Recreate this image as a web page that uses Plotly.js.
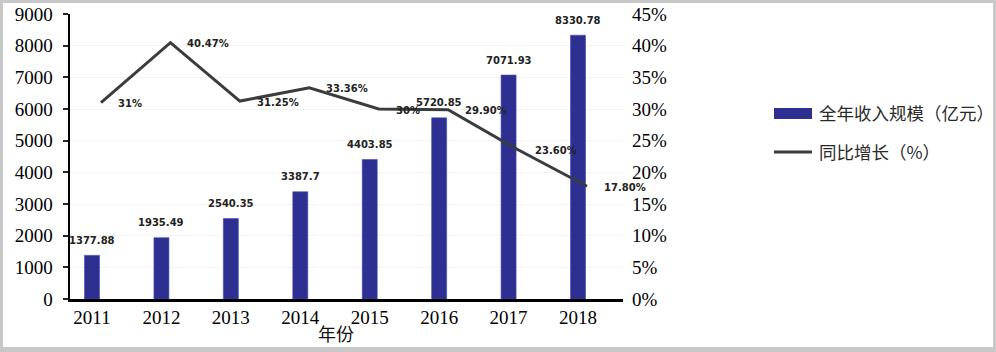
<!DOCTYPE html>
<html>
<head>
<meta charset="utf-8">
<script src="https://cdn.plot.ly/plotly-3.0.1.min.js"></script>
<style>
  html, body { margin: 0; padding: 0; background: #ffffff; }
  #frame { position: absolute; left: 0; top: 0; width: 996px; height: 352px; box-sizing: border-box;
           border-style: solid; border-color: #c8c8c8; border-width: 3px 3px 5px 3px; pointer-events: none; z-index: 10; }
  #chart { position: absolute; left: 0; top: 0; width: 996px; height: 352px; }
</style>
</head>
<body>
<div id="chart"></div>
<div id="frame"></div>
<script>
// ---- data ----
const years = ['2011', '2012', '2013', '2014', '2015', '2016', '2017', '2018'];
const revenue = [1377.88, 1935.49, 2540.35, 3387.7, 4403.85, 5720.85, 7071.93, 8330.78];
const revenueLabels = ['1377.88', '1935.49', '2540.35', '3387.7', '4403.85', '5720.85', '7071.93', '8330.78'];
const growth = [31, 40.47, 31.25, 33.36, 30, 29.90, 23.60, 17.80];
const growthLabels = ['31%', '40.47%', '31.25%', '33.36%', '30%', '29.90%', '23.60%', '17.80%'];
const leftTicks = [0, 1000, 2000, 3000, 4000, 5000, 6000, 7000, 8000, 9000];
const rightTicks = [0, 5, 10, 15, 20, 25, 30, 35, 40, 45];
const rightTickText = ['0%', '5%', '10%', '15%', '20%', '25%', '30%', '35%', '40%', '45%'];
const legendNames = ['全年收入规模（亿元）', '同比增长（%）'];
const xTitle = '年份';

// ---- layout geometry (pixels) ----
const W = 996, H = 352;
const L = 70, R = 623, T = 14, B = 299;
const px = x => (x - L) / (R - L);
const py = y => (B - y) / (B - T);

const barColor = '#2d3091';
const lineColor = '#3a3d40';
const serif = 'Liberation Serif, Times New Roman, serif';
const mkLabelFont = () => ({ family: 'DejaVu Sans, Verdana, sans-serif', size: 10, color: '#222222', weight: 'bold' });

const traces = [
  {
    type: 'bar', x: years, y: revenue, name: legendNames[0],
    marker: { color: barColor, line: { color: '#3a4cb0', width: 0.6 } },
    xaxis: 'x', yaxis: 'y', showlegend: false, hoverinfo: 'x+y'
  },
  {
    type: 'scatter', mode: 'lines', x: years, y: growth, name: legendNames[1],
    line: { color: lineColor, width: 3 },
    xaxis: 'x2', yaxis: 'y2', showlegend: false
  }
];

const annotations = [];
years.forEach((yr, i) => {
  // category axes: annotation x given as the category's serial index
  annotations.push({
    x: i, y: revenue[i], xref: 'x', yref: 'y', text: revenueLabels[i],
    showarrow: false, xanchor: 'center', yanchor: 'middle', yshift: 15, font: mkLabelFont()
  });
  annotations.push({
    x: i, y: growth[i], xref: 'x2', yref: 'y2', text: growthLabels[i],
    showarrow: false, xanchor: 'left', yanchor: 'middle', xshift: 15, yshift: -1, font: mkLabelFont()
  });
});
annotations.push({
  x: px(336), y: py(333), xref: 'paper', yref: 'paper', text: xTitle, showarrow: false,
  xanchor: 'center', yanchor: 'middle',
  font: { family: 'Noto Sans CJK SC, sans-serif', size: 18, color: '#111111' }
});
annotations.push({
  x: px(817), y: py(113), xref: 'paper', yref: 'paper', text: legendNames[0], showarrow: false,
  xanchor: 'left', yanchor: 'middle',
  font: { family: 'Noto Sans CJK SC, sans-serif', size: 17.5, color: '#2a2a2a' }
});
annotations.push({
  x: px(817), y: py(151), xref: 'paper', yref: 'paper', text: legendNames[1], showarrow: false,
  xanchor: 'left', yanchor: 'middle',
  font: { family: 'Noto Sans CJK SC, sans-serif', size: 17.5, color: '#2a2a2a' }
});

const shapes = [
  { type: 'rect', xref: 'paper', yref: 'paper', x0: px(774), x1: px(812), y0: py(108), y1: py(119),
    fillcolor: barColor, line: { width: 0 } },
  { type: 'line', xref: 'paper', yref: 'paper', x0: px(774), x1: px(812), y0: py(152), y1: py(152),
    line: { color: lineColor, width: 3 } }
];

const spacing = 69.43, firstCenter = 92, lineOffset = 9;
const xr = [(L - firstCenter) / spacing, (R - firstCenter) / spacing];
const xr2 = [(L - firstCenter - lineOffset) / spacing, (R - firstCenter - lineOffset) / spacing];

const layout = {
  width: W, height: H,
  margin: { l: L, r: W - R, t: T, b: H - B, pad: 0 },
  paper_bgcolor: '#ffffff', plot_bgcolor: '#ffffff',
  showlegend: false,
  bargap: 0.784,
  xaxis: {
    type: 'category', range: xr, showline: true, linecolor: '#000000', linewidth: 2.5,
    ticks: '', showgrid: false, zeroline: false,
    tickfont: { family: serif, size: 19, color: '#000000' }
  },
  xaxis2: {
    type: 'category', overlaying: 'x', range: xr2, visible: false, showgrid: false
  },
  yaxis: {
    range: [0, 9000], tickvals: leftTicks, showline: true, linecolor: '#000000', linewidth: 2.5,
    ticks: 'outside', ticklen: 5, tickwidth: 2, tickcolor: '#1a2a3a',
    showgrid: true, gridcolor: '#f3f3f3', zeroline: false, ticklabelstandoff: 6,
    tickfont: { family: serif, size: 19, color: '#000000' }
  },
  yaxis2: {
    range: [0, 45], overlaying: 'y', side: 'right', tickvals: rightTicks, ticktext: rightTickText,
    showline: false, ticks: '', showgrid: false, zeroline: false, ticklabelstandoff: 8,
    tickfont: { family: serif, size: 19, color: '#000000' }
  },
  annotations: annotations,
  shapes: shapes
};

Plotly.newPlot('chart', traces, layout, { displayModeBar: false, staticPlot: true });
</script>
</body>
</html>
